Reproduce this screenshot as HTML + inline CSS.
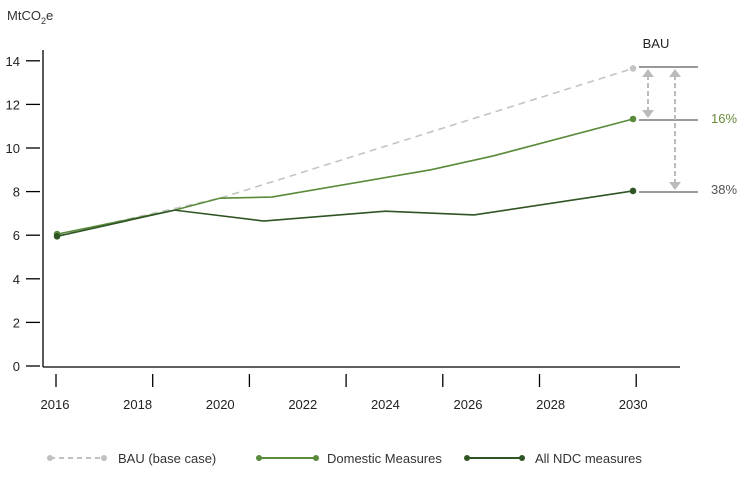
<!DOCTYPE html>
<html><head><meta charset="utf-8"><style>
body{margin:0;background:#fff;}
svg text{font-family:"Liberation Sans",sans-serif;}
</style></head><body>
<svg id="chart" width="750" height="475" viewBox="0 0 750 475" xmlns="http://www.w3.org/2000/svg">
<text x="7" y="20" font-size="13" fill="#333">MtCO<tspan font-size="9" dy="4">2</tspan><tspan dy="-4">e</tspan></text>
<line x1="43" y1="50" x2="43" y2="367" stroke="#000" stroke-width="1.3"/>
<line x1="43" y1="367" x2="680" y2="367" stroke="#000" stroke-width="1.3"/>
<g id="yticks"></g><g id="xticks"></g><g id="series"></g>
<g>
<text x="656" y="48" font-size="13" fill="#222" text-anchor="middle">BAU</text>
<line x1="639" y1="67" x2="698" y2="67" stroke="#999" stroke-width="2"/>
<line x1="639" y1="120" x2="698" y2="120" stroke="#999" stroke-width="2"/>
<line x1="639" y1="192" x2="698" y2="192" stroke="#999" stroke-width="2"/>
<g stroke="#bbb" stroke-width="2" stroke-dasharray="5,3" fill="none">
<line x1="648" y1="75" x2="648" y2="112"/>
<line x1="675" y1="75" x2="675" y2="184"/>
</g>
<g fill="#bbb">
<polygon points="642,77 654,77 648,69"/><polygon points="642,110 654,110 648,118"/>
<polygon points="669,77 681,77 675,69"/><polygon points="669,182 681,182 675,190"/>
</g>
<text x="711" y="123" font-size="13" fill="#6a8a3a">16%</text>
<text x="711" y="194" font-size="13" fill="#555">38%</text>
</g>
<g>
<line x1="50" y1="458" x2="104" y2="458" stroke="#c0c0c0" stroke-width="2" stroke-dasharray="5,4"/>
<circle cx="50" cy="458" r="3" fill="#c0c0c0"/><circle cx="104" cy="458" r="3" fill="#c0c0c0"/>
<text x="118" y="463" font-size="13" fill="#333">BAU (base case)</text>
<line x1="259" y1="458" x2="316" y2="458" stroke="#5a8a3a" stroke-width="2"/>
<circle cx="259" cy="458" r="3" fill="#5a8a3a"/><circle cx="316" cy="458" r="3" fill="#5a8a3a"/>
<text x="327" y="463" font-size="13" fill="#333">Domestic Measures</text>
<line x1="467" y1="458" x2="522" y2="458" stroke="#2f5524" stroke-width="2"/>
<circle cx="467" cy="458" r="3" fill="#2f5524"/><circle cx="522" cy="458" r="3" fill="#2f5524"/>
<text x="535" y="463" font-size="13" fill="#333">All NDC measures</text>
</g>
</svg>
<script>
const yTicks=[0,2,4,6,8,10,12,14];
const xLabels=["2016","2018","2020","2022","2024","2026","2028","2030"];
const bauYears=[2016.05,2020,2030];
const bauValues=[6.0,7.7,13.65];
const domYears=[2016.05,2018.9,2020,2021.25,2025.1,2026.6,2030];
const domValues=[6.05,7.15,7.7,7.75,9.0,9.63,11.33];
const ndcYears=[2016.05,2018.9,2021.05,2024,2026.15,2030];
const ndcValues=[5.95,7.15,6.65,7.1,6.93,8.03];
const NS="http://www.w3.org/2000/svg";
function X(yr){return 55+(yr-2016)*(633-55)/14;}
function Y(v){return 366-v*21.8;}
function mk(t,a,p){const e=document.createElementNS(NS,t);for(const k in a)e.setAttribute(k,a[k]);p.appendChild(e);return e;}
const yg=document.getElementById('yticks');
yTicks.forEach(v=>{
 const l=mk('line',{x1:26,x2:40,y1:Y(v),y2:Y(v),stroke:'#000','stroke-width':1.3},yg);
 
 
 const t=mk('text',{x:20,y:Y(v)+5,'font-size':13,fill:'#222','text-anchor':'end'},yg);t.textContent=v;
 
 
});
const xg=document.getElementById('xticks');
for(let i=0;i<7;i++){
 const tx=56+i*96.7;
 const l=mk('line',{x1:tx,x2:tx,y1:374,y2:387,stroke:'#000','stroke-width':1.3},xg);
 
 
}
xLabels.forEach((s,i)=>{
 const t=mk('text',{x:55+i*82.6,y:409,'font-size':13,fill:'#222','text-anchor':'middle'},xg);t.textContent=s;
 
 
});
const sg=document.getElementById('series');
function series(ys,vs,col,w,dash,name,startDot){
 const pts=ys.map((y,i)=>X(y)+','+Y(vs[i])).join(' ');
 const p=mk('polyline',{points:pts,fill:'none',stroke:col,'stroke-width':w},sg);
 if(dash)p.setAttribute('stroke-dasharray',dash);
 
 
 const n=ys.length-1;
 const c=mk('circle',{cx:X(ys[n]),cy:Y(vs[n]),r:3.3,fill:col},sg);
 
 
 if(startDot){const c0=mk('circle',{cx:X(ys[0]),cy:Y(vs[0]),r:3.3,fill:col},sg);
 
 }
}
series(bauYears,bauValues,'#c4c4c4',1.6,'7,5','bau',false);
series(domYears,domValues,'#5a8a3a',1.6,null,'domestic',true);
series(ndcYears,ndcValues,'#2f5524',1.6,null,'ndc',true);
</script>
</body></html>
